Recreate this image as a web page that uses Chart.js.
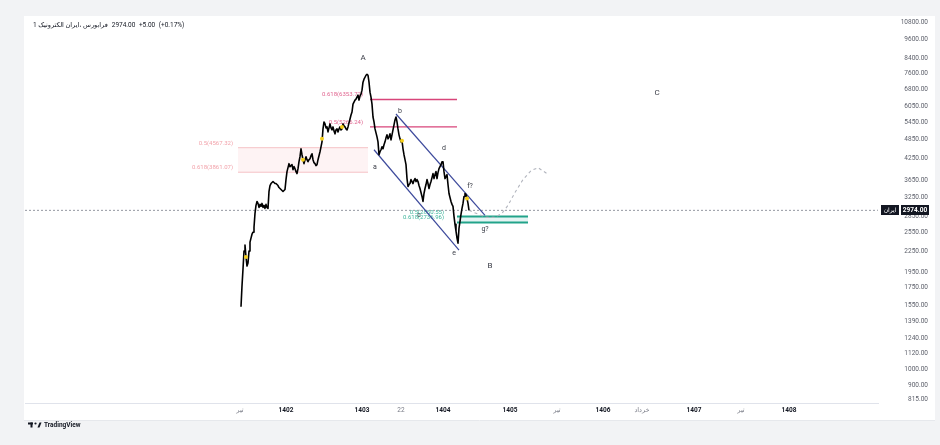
<!DOCTYPE html>
<html>
<head>
<meta charset="utf-8">
<script src="https://cdn.jsdelivr.net/npm/chart.js@4.4.1/dist/chart.umd.min.js"></script>
<style>
  html, body { margin: 0; padding: 0; background: #f2f3f5; }
  canvas { display: block; }
</style>
</head>
<body>
<canvas id="chart" width="940" height="445"></canvas>
<script>
// --- values ---
// one close per bar, starting at firstBar
const firstBar = 216;
const priceCloses = [
  1537, 1773, 1990, 2250, 2344, 2160, 2031, 2073, 2250, 2392,
  2458, 2526, 2560, 2649, 2914, 3077, 3161, 3119, 3035, 3098,
  3056, 3119, 3035, 3077, 3014, 3098, 3035, 3014, 3384, 3525,
  3573, 3598, 3622, 3598, 3573, 3573, 3549, 3525, 3477, 3454,
  3430, 3407, 3384, 3407, 3430, 3672, 3877, 3984, 4094, 4012,
  4039, 4066, 3930, 4012, 3957, 3877, 3825, 3957, 4150, 4294,
  4534, 4353, 4207, 4094, 4207, 4294, 4207, 4150, 4207, 4236,
  4323, 4382, 4207, 4122, 4094, 4039, 4066, 4207, 4323, 4442,
  4596, 4755, 5195, 5448, 5375, 5231, 5266, 5090, 5231, 5375,
  5231, 5160, 5266, 5125, 5021, 5160, 5195, 5090, 5195, 5266,
  5160, 5195, 5375, 5302, 5266, 5195, 5160, 5266, 5412, 5561,
  5714, 5832, 6158, 6243, 6328, 6371, 6459, 6547, 6328, 6503,
  6592, 6774, 7153, 7300, 7400, 7501, 7553, 7501, 7153, 6682,
  6459, 6158, 5637, 5448, 5195, 5056, 4920, 4755, 4353, 4442,
  4504, 4596, 4534, 4659, 4755, 4887, 4987, 4853, 4920, 5021,
  4820, 4987, 5160, 5338, 5523, 5637, 5448, 5195, 4987, 4853,
  4755, 4788, 4534, 4353, 4207, 4066, 3697, 3501, 3549, 3573,
  3672, 3622, 3573, 3647, 3697, 3622, 3672, 3622, 3525, 3454,
  3361, 3271, 3161, 3338, 3454, 3549, 3672, 3573, 3454, 3549,
  3622, 3722, 3825, 3697, 3799, 3877, 3697, 3851, 3957, 4012,
  4066, 4150, 4150, 3877, 3697, 3748, 3799, 3549, 3338, 3249,
  3161, 3098, 3056, 2855, 2703, 2578, 2458, 2376, 2631, 2759,
  2894, 3014, 3119, 3271, 3338, 3316, 3227, 3119, 2974
];
const lastPrice = 2974;
const priceChange = '+5.00';
const priceChangePct = '(+0.17%)';
const symbolTitle = 'فرابورس ،ایران الکترونیک 1';
const symbolTag = 'ایران';

const yTickValues = [815, 900, 1000, 1120, 1240, 1390, 1550, 1750, 1950, 2250, 2550, 2850,
  3250, 3650, 4250, 4850, 5450, 6050, 6800, 7600, 8400, 9600, 10800];
const timeTickBars = [215, 261, 337, 376, 418, 485, 532, 578, 617, 669, 716, 764];
const timeTickLabels = ['تیر', '1402', '1403', '22', '1404', '1405', 'تیر', '1406', 'خرداد', '1407', 'تیر', '1408'];

const markerBars = [221, 278, 297, 317, 377, 442];
const markerPrices = [2160, 4207, 4853, 5266, 4788, 3227];

const channelLowerBars = [349, 434];
const channelLowerPrices = [4504, 2266];
const channelUpperBars = [371, 460];
const channelUpperPrices = [5753, 2875];

const projectionBars = [444, 451, 461, 470, 477, 483, 490, 498, 506, 513, 522];
const projectionPrices = [2974, 2914, 2835, 2835, 2914, 3077, 3361, 3672, 3904, 3984, 3825];

const fibRedLevels = [6353.72, 5266.24];
const fibRedLabels = ['0.618(6353.72)', '0.5(5266.24)'];
const fibRedSpan = [345, 432];
const fibZoneLevels = [4567.32, 3861.07];
const fibZoneLabels = ['0.5(4567.32)', '0.618(3861.07)'];
const fibZoneSpan = [213, 343];
const fibGreenLevels = [2850.55, 2736.96];
const fibGreenLabels = ['0.5(2850.55)', '0.618(2736.96)'];
const fibGreenSpan = [432, 503];

const waveLabels = ['A', 'b', 'a', 'd', 'c', 'e', 'f?', 'g?', 'B', 'C'];
const waveBars = [338, 375, 350, 419, 394, 429, 445, 460, 465, 632];
const wavePrices = [8420, 5872, 3984, 4565, 2874, 2219, 3501, 2613, 2031, 6637];

// --- helpers ---
const FONT = 'Roboto, "DejaVu Sans", sans-serif';
const pts = (xs, ys) => xs.map((x, i) => ({ x: x, y: ys[i] }));
const hline = (span, level) => [{ x: span[0], y: level }, { x: span[1], y: level }];

function lineSet(data, color, width, extra) {
  return Object.assign({
    type: 'line', data: data, borderColor: color, borderWidth: width,
    pointRadius: 0, fill: false, tension: 0, order: 5
  }, extra || {});
}

const measure = document.createElement('canvas').getContext('2d');
measure.font = '6.5px ' + FONT;
const widestTick = measure.measureText('10800.00').width;

const drawings = {
  id: 'drawings',
  beforeDraw(chart) {
    const c = chart.ctx;
    c.save();
    c.fillStyle = '#f2f3f5';
    c.fillRect(0, 0, chart.width, chart.height);
    c.fillStyle = '#ffffff';
    c.fillRect(24, 16, 911, 405);
    c.strokeStyle = '#e6e8ec';
    c.lineWidth = 1;
    c.beginPath();
    c.moveTo(24, 420.5); c.lineTo(935, 420.5);
    c.stroke();
    c.restore();
  },
  beforeDatasetsDraw(chart) {
    const c = chart.ctx, x = chart.scales.x, y = chart.scales.y;
    c.save();
    // pink retracement zone
    const zx0 = x.getPixelForValue(fibZoneSpan[0]), zx1 = x.getPixelForValue(fibZoneSpan[1]);
    const zy0 = y.getPixelForValue(fibZoneLevels[0]), zy1 = y.getPixelForValue(fibZoneLevels[1]);
    c.fillStyle = 'rgba(242, 54, 69, 0.06)';
    c.fillRect(zx0, zy0, zx1 - zx0, zy1 - zy0);
    // green zone
    const gx0 = x.getPixelForValue(fibGreenSpan[0]), gx1 = x.getPixelForValue(fibGreenSpan[1]);
    const gy0 = y.getPixelForValue(fibGreenLevels[0]), gy1 = y.getPixelForValue(fibGreenLevels[1]);
    c.fillStyle = 'rgba(38, 166, 154, 0.12)';
    c.fillRect(gx0, gy0, gx1 - gx0, gy1 - gy0);

    // fib labels
    c.font = '6px ' + FONT;
    c.textAlign = 'right';
    c.textBaseline = 'bottom';
    const put = (labels, levels, bar, color) => {
      c.fillStyle = color;
      labels.forEach((t, i) => c.fillText(t, x.getPixelForValue(bar), y.getPixelForValue(levels[i]) - 1.5));
    };
    put(fibRedLabels, fibRedLevels, fibRedSpan[0] - 7, '#e0648f');
    put(fibZoneLabels, fibZoneLevels, fibZoneSpan[0] - 5, '#f2a3ab');
    put(fibGreenLabels, fibGreenLevels, fibGreenSpan[0] - 13, '#3fb59c');
    c.restore();
  },
  afterDatasetsDraw(chart) {
    const c = chart.ctx, x = chart.scales.x, y = chart.scales.y;
    c.save();
    c.textAlign = 'center';
    c.textBaseline = 'middle';
    c.fillStyle = '#3a3d47';
    waveLabels.forEach((t, i) => {
      c.font = (t === t.toUpperCase() && t.length === 1 ? '8px ' : '7px ') + FONT;
      c.fillText(t, x.getPixelForValue(waveBars[i]), y.getPixelForValue(wavePrices[i]));
    });
    c.restore();
  },
  afterDraw(chart) {
    const c = chart.ctx, y = chart.scales.y;
    c.save();
    // header: symbol, last price, change
    c.font = '6.5px ' + FONT;
    c.textBaseline = 'middle';
    c.fillStyle = '#131722';
    c.direction = 'rtl';
    c.textAlign = 'left';
    c.fillText(symbolTitle, 33, 25);
    let hx = 33 + c.measureText(symbolTitle).width + 4;
    c.direction = 'ltr';
    [lastPrice.toFixed(2), priceChange, priceChangePct].forEach(t => {
      c.fillText(t, hx, 25);
      hx += c.measureText(t).width + 3.5;
    });

    // last price tags on the price scale
    const py = Math.round(y.getPixelForValue(lastPrice));
    c.fillStyle = '#131722';
    c.fillRect(881, py - 5, 18, 10);
    c.fillRect(901, py - 5, 28, 10);
    c.fillStyle = '#ffffff';
    c.textAlign = 'center';
    c.font = '6px ' + FONT;
    c.fillText(symbolTag, 890, py);
    c.font = 'bold 6.5px ' + FONT;
    c.fillText(lastPrice.toFixed(2), 915, py);

    // TradingView mark
    c.fillStyle = '#131722';
    c.fillRect(28, 422.5, 5, 2);
    c.fillRect(30.5, 422.5, 2, 5);
    c.beginPath();
    c.arc(35.5, 423.5, 1.1, 0, Math.PI * 2);
    c.fill();
    c.beginPath();
    c.moveTo(37.5, 427.5); c.lineTo(39.5, 422.5); c.lineTo(41.5, 422.5); c.lineTo(39.5, 427.5);
    c.closePath();
    c.fill();
    c.font = 'bold 6.5px ' + FONT;
    c.textAlign = 'left';
    c.fillText('TradingView', 44, 425);
    c.restore();
  }
};

new Chart(document.getElementById('chart'), {
  type: 'line',
  data: {
    datasets: [
      lineSet(pts(markerBars, markerPrices), '#f5cf1c', 0, {
        showLine: false, pointRadius: 2, pointBackgroundColor: '#f5cf1c',
        pointBorderWidth: 0, order: 0
      }),
      lineSet(priceCloses.map((v, i) => ({ x: firstBar + i, y: v })), '#000000', 1.6,
        { order: 1, borderJoinStyle: 'round' }),
      lineSet(hline([0, 853], lastPrice), '#9598a1', 1, { borderDash: [2, 2], order: 6 }),
      lineSet(pts(channelLowerBars, channelLowerPrices), '#3d4a9c', 1.2),
      lineSet(pts(channelUpperBars, channelUpperPrices), '#3d4a9c', 1.2),
      lineSet(pts(projectionBars, projectionPrices), '#b2b5be', 1.1, { borderDash: [3, 3] }),
      lineSet(hline(fibRedSpan, fibRedLevels[0]), '#d8457a', 1.3),
      lineSet(hline(fibRedSpan, fibRedLevels[1]), '#d8457a', 1.3),
      lineSet(hline(fibZoneSpan, fibZoneLevels[0]), '#f5c2c6', 1),
      lineSet(hline(fibZoneSpan, fibZoneLevels[1]), '#f5c2c6', 1),
      lineSet(hline(fibGreenSpan, fibGreenLevels[0]), '#22a38a', 2),
      lineSet(hline(fibGreenSpan, fibGreenLevels[1]), '#22a38a', 2)
    ]
  },
  options: {
    responsive: false,
    animation: false,
    devicePixelRatio: 1,
    layout: { padding: { left: 25, top: 17, right: 12, bottom: 24 } },
    plugins: { legend: { display: false }, tooltip: { enabled: false } },
    scales: {
      x: {
        type: 'linear',
        min: 0,
        max: 853,
        grid: { display: false, drawTicks: false },
        border: { display: true, color: '#e0e3eb' },
        afterBuildTicks: s => { s.ticks = timeTickBars.map(v => ({ value: v })); },
        afterFit: s => { s.height = 18; },
        ticks: {
          autoSkip: false,
          maxRotation: 0,
          minRotation: 0,
          padding: 3,
          callback: (v, i) => timeTickLabels[i],
          color: ctx => /^\d{4}$/.test(timeTickLabels[ctx.index]) ? '#131722' : '#787b86',
          font: ctx => ({
            family: FONT, size: 6.5,
            weight: /^\d{4}$/.test(timeTickLabels[ctx.index]) ? 'bold' : 'normal'
          })
        }
      },
      y: {
        type: 'logarithmic',
        position: 'right',
        min: 795,
        max: 10980,
        bounds: 'data',
        grid: { display: false, drawTicks: false },
        border: { display: false },
        afterBuildTicks: s => { s.ticks = yTickValues.map(v => ({ value: v })); },
        afterFit: s => { s.width = 50; },
        ticks: {
          autoSkip: false,
          crossAlign: 'far',
          padding: 50 - 7 - widestTick,
          color: '#5d606b',
          font: { family: FONT, size: 6.5 },
          callback: v => Number(v).toFixed(2)
        }
      }
    }
  },
  plugins: [drawings]
});
</script>
</body>
</html>
